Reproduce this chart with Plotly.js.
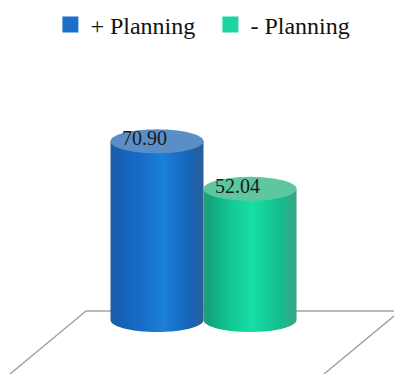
<!DOCTYPE html>
<html>
<head>
<meta charset="utf-8">
<script src="https://cdn.plot.ly/plotly-3.0.1.min.js"></script>
<style>html,body{margin:0;padding:0;background:#fff;}#chart{width:394px;height:374px;}</style>
</head>
<body>
<div id="chart"></div>
<script>
// ---- data ----
const categories = ['+ Planning', '- Planning'];
const values = [70.90, 52.04];
const valueLabels = ['70.90', '52.04'];
const legendColors = ['#1d6fcc', '#1bd5a0'];
const topColors = ['#5b8ec7', '#5ec7a0'];
const bodyScales = [
  [[0, '#245c9e'], [0.06, '#155fb2'], [0.3, '#166ac4'], [0.57, '#1b7fda'], [0.85, '#1563b8'], [1, '#2a5d97']],
  [[0, '#2a9a7a'], [0.07, '#10a67c'], [0.3, '#13c893'], [0.52, '#17dfa6'], [0.82, '#12be8c'], [1, '#3aa486']]
];

// ---- geometry helpers (derived from axis units) ----
const R = 0.5;      // cylinder radius in x-axis units
const RY = 4.76;    // ellipse half-height in y-axis units
const N = 60;

function arc(cx, cy, t0, t1) {
  const xs = [], ys = [];
  for (let k = 0; k <= N; k++) {
    const t = t0 + (t1 - t0) * k / N;
    xs.push(cx + R * Math.cos(t));
    ys.push(cy + RY * Math.sin(t));
  }
  return [xs, ys];
}

const traces = [];
// legend entries (marker hidden beneath the top ellipse)
categories.forEach((name, i) => {
  traces.push({
    type: 'scatter', mode: 'markers', x: [i], y: [values[i]], name: name,
    marker: {symbol: 'square', size: 16, color: legendColors[i], line: {width: 0}},
    hoverinfo: 'skip', showlegend: true
  });
});
// cylinder bodies and tops
categories.forEach((name, i) => {
  const v = values[i];
  const [bx, by] = arc(i, 0, 0, -Math.PI);
  const xs = [i - R, i + R].concat(bx);
  const ys = [v, v].concat(by);
  traces.push({
    type: 'scatter', mode: 'none', x: xs, y: ys, fill: 'toself',
    fillgradient: {type: 'horizontal', colorscale: bodyScales[i]},
    showlegend: false, hoverinfo: 'skip'
  });
  const [tx, ty] = arc(i, v, 0, 2 * Math.PI);
  traces.push({
    type: 'scatter', mode: 'none', x: tx, y: ty, fill: 'toself',
    fillcolor: topColors[i], showlegend: false, hoverinfo: 'skip'
  });
});

const annotations = categories.map((c, i) => ({
  x: i, y: values[i], xref: 'x', yref: 'y', text: valueLabels[i],
  showarrow: false, xshift: -13, yshift: 3,
  font: {family: 'Liberation Serif', size: 20, color: '#1a1a1a'}
}));

// floor (decorative perspective plane)
const W = 394, H = 374;
const px = x => x / W, py = y => 1 - y / H;
const floorColor = '#a3a3a3';
const shapes = [
  {type: 'line', xref: 'paper', yref: 'paper', x0: px(86), y0: py(311), x1: px(400), y1: py(311), line: {color: floorColor, width: 1.5}, layer: 'below'},
  {type: 'line', xref: 'paper', yref: 'paper', x0: px(86), y0: py(311), x1: px(10), y1: py(374), line: {color: floorColor, width: 1.5}, layer: 'below'},
  {type: 'line', xref: 'paper', yref: 'paper', x0: px(400), y0: py(311), x1: px(324), y1: py(374), line: {color: floorColor, width: 1.5}, layer: 'below'}
];

const layout = {
  width: W, height: H,
  margin: {l: 0, r: 0, t: 0, b: 0, pad: 0},
  paper_bgcolor: '#ffffff', plot_bgcolor: '#ffffff',
  xaxis: {range: [-1.688, 2.548], visible: false, fixedrange: true},
  yaxis: {range: [-21.43, 126.98], visible: false, fixedrange: true},
  showlegend: true,
  legend: {orientation: 'h', x: 0.534, xanchor: 'center', y: 1 - 25 / H, yanchor: 'middle',
           font: {family: 'Liberation Serif', size: 24, color: '#111111'}, itemwidth: 30,
           entrywidth: 115, entrywidthmode: 'pixels',
           bgcolor: 'rgba(0,0,0,0)'},
  hovermode: false,
  annotations: annotations,
  shapes: shapes
};

Plotly.newPlot('chart', traces, layout, {displayModeBar: false, staticPlot: true});
</script>
</body>
</html>
